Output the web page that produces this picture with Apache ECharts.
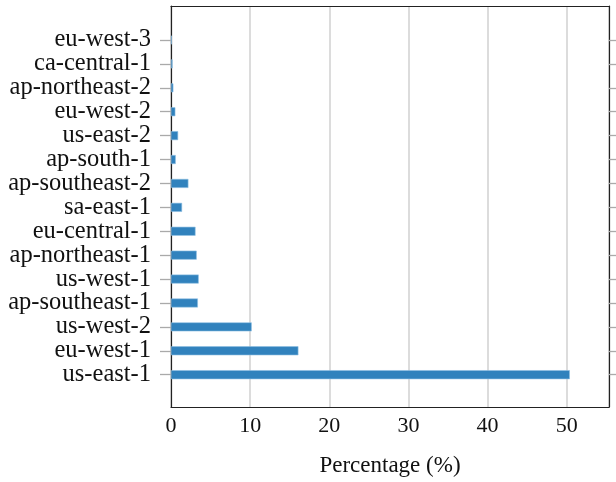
<!DOCTYPE html>
<html><head><meta charset="utf-8">
<script src="https://cdn.jsdelivr.net/npm/echarts@6/dist/echarts.min.js"></script>
<style>html,body{margin:0;padding:0;background:#fff}#c{width:616px;height:482px}</style>
</head><body><div id="c"></div>
<script>
const regions = ['us-east-1','eu-west-1','us-west-2','ap-southeast-1','us-west-1','ap-northeast-1','eu-central-1','sa-east-1','ap-southeast-2','ap-south-1','us-east-2','eu-west-2','ap-northeast-2','ca-central-1','eu-west-3'];
const percentages = [50.4,16.1,10.2,3.4,3.5,3.25,3.1,1.4,2.2,0.6,0.9,0.55,0.3,0.2,0.1];
const xTicks = [0,10,20,30,40,50];
const xMin = 0, xMax = 55.35;
const axisName = 'Percentage (%)';

const FONT = 'Liberation Serif';
const chart = echarts.init(document.getElementById('c'), null, {renderer:'canvas'});
const lineStyle = {color:'#222', width:1.2};
chart.setOption({
  animation:false,
  grid:[
    {left:171, right:7, top:6, bottom:74},
    {left:171, right:7, top:28.05, bottom:95.35}
  ],
  xAxis:[
    {gridIndex:0, type:'value', min:xMin, max:xMax, interval:10, position:'bottom',
     axisLine:{show:true, onZero:false, lineStyle}, axisTick:{show:false},
     axisLabel:{customValues:xTicks, fontFamily:FONT, fontSize:22, color:'#111', margin:8},
     splitLine:{show:true, lineStyle:{color:'#d4d4d4', width:1.6}},
     name:axisName, nameLocation:'middle', nameGap:47,
     nameTextStyle:{fontFamily:FONT, fontSize:23, color:'#111'}},
    {gridIndex:0, type:'value', min:xMin, max:xMax, position:'top',
     axisLine:{show:true, onZero:false, lineStyle}, axisTick:{show:false}, axisLabel:{show:false}, splitLine:{show:false}},
    {gridIndex:1, type:'value', min:xMin, max:xMax, show:false}
  ],
  yAxis:[
    {gridIndex:0, type:'value', min:0, max:1, position:'left',
     axisLine:{show:true, onZero:false, lineStyle}, axisTick:{show:false}, axisLabel:{show:false}, splitLine:{show:false}},
    {gridIndex:0, type:'value', min:0, max:1, position:'right',
     axisLine:{show:true, onZero:false, lineStyle}, axisTick:{show:false}, axisLabel:{show:false}, splitLine:{show:false}},
    {gridIndex:1, type:'category', data:regions, position:'left',
     axisLine:{show:false}, axisTick:{show:true, alignWithLabel:true, length:11, lineStyle:{color:'#aaa', width:1.3}},
     axisLabel:{interval:0, fontFamily:FONT, fontSize:24.5, color:'#111', margin:20}},
    {gridIndex:1, type:'category', data:regions, position:'right',
     axisLine:{show:false}, axisTick:{show:true, alignWithLabel:true, length:11, lineStyle:{color:'#aaa', width:1.3}},
     axisLabel:{show:false}}
  ],
  series:[{
    type:'bar', xAxisIndex:2, yAxisIndex:2, data:percentages, barWidth:9,
    itemStyle:{color:'#3182bd', borderColor:'#8fbfe3', borderWidth:0.6}
  }]
});
</script></body></html>
